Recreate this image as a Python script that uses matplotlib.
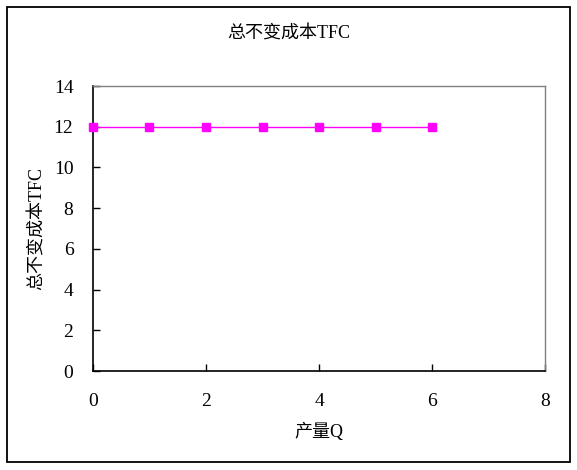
import matplotlib
matplotlib.use("Agg")
import matplotlib.pyplot as plt
from matplotlib.patches import Rectangle

plt.rcParams['font.family'] = ['Liberation Serif', 'Noto Sans CJK SC', 'DejaVu Sans']

quantity = [0, 1, 2, 3, 4, 5, 6]
tfc = [12, 12, 12, 12, 12, 12, 12]
title = "总不变成本TFC"
xlabel = "产量Q"
ylabel = "总不变成本TFC"

fig = plt.figure(figsize=(5.77, 4.70), dpi=100)
ax = fig.add_axes([0.161, 0.2106, 0.784, 0.6064])

ax.plot(quantity, tfc, color='#ff00ff', lw=1.0, marker='s', markersize=6,
        markerfacecolor='#ff00ff', markeredgecolor='#ff00ff', clip_on=False, zorder=3)

ax.set_xlim(0, 8)
ax.set_ylim(0, 14)
ax.set_xticks(range(0, 9, 2))
ax.set_yticks(range(0, 15, 2))
ax.tick_params(direction='in', length=5, width=1, labelsize=14, colors='black')
ax.tick_params(axis='x', pad=16)
ax.tick_params(axis='y', pad=14)
for side in ['left', 'bottom']:
    ax.spines[side].set_color('black')
    ax.spines[side].set_linewidth(1.2)
for side in ['top', 'right']:
    ax.spines[side].set_color('#808080')
    ax.spines[side].set_linewidth(1.0)
ax.tick_params(which='both', top=False, right=False)

ax.set_xlabel(xlabel, fontsize=13, labelpad=9)
ax.set_ylabel(ylabel, fontsize=13, labelpad=6)
fig.text(0.5, 0.928, title, ha='center', va='center', fontsize=13)

fig.patches.append(Rectangle((0.012, 0.016), 0.976, 0.97, transform=fig.transFigure,
                             fill=False, edgecolor='black', lw=1.3))

fig.savefig('out.png', dpi=100)
